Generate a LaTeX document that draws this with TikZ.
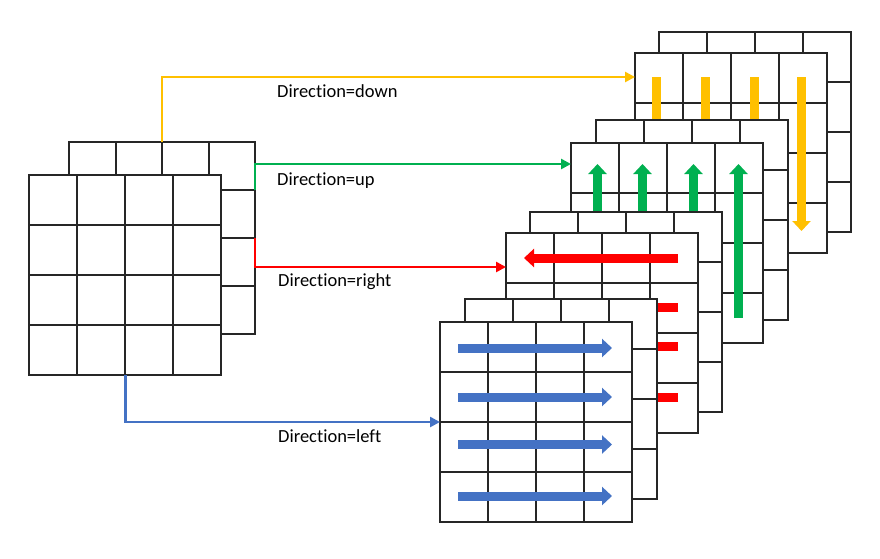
\documentclass[tikz,border=0pt]{standalone}
\usepackage{fontspec}
\setmainfont{Carlito}[Ligatures={NoCommon}]
\usetikzlibrary{arrows.meta,calc}
\definecolor{cy}{HTML}{FFC000}
\definecolor{cg}{HTML}{00B050}
\definecolor{cr}{HTML}{FF0000}
\definecolor{cb}{HTML}{4472C4}
\definecolor{gl}{HTML}{262626}
\tikzset{
  gridbox/.style={draw=gl, line width=2pt, fill=white, inner sep=0pt, outer sep=0pt, rectangle},
  gridline/.style={draw=gl, line width=2pt},
  conn/.style={line width=2.6pt, -{Triangle[length=10pt,width=10pt]}},
  blk/.style={line width=9pt, -{Triangle[length=10pt,width=18pt]}},
  lbl/.style={anchor=base west, inner sep=0pt, font=\fontsize{18.5}{22}\selectfont}
}
\newcommand\mygrid[5]{%
  \node[gridbox, anchor=north west, minimum width=#4pt, minimum height=#5pt] (#1) at (#2,#3) {};
  \foreach \i in {1,2,3} {
    \draw[gridline] ($(#1.north west)+({#4/4*\i},0)$) -- ($(#1.south west)+({#4/4*\i},0)$);
    \draw[gridline] ($(#1.north west)+(0,{#5/4*\i})$) -- ($(#1.north east)+(0,{#5/4*\i})$);
  }%
}
\begin{document}
\begin{tikzpicture}[x=1pt,y=-1pt]
\useasboundingbox (0,0) rectangle (880,558);
% left source grids
\mygrid{LB}{69}{142}{186}{192}
\mygrid{LF}{29}{175}{192}{200}
% down stack
\mygrid{YB}{659}{32}{192}{200}
\mygrid{YF}{635}{53}{192}{200}
\foreach \x in {656.5,705.5,754.5,801.5} \draw[blk, cy] (\x,77) -- (\x,231);
% up stack
\mygrid{GB}{596}{120}{192}{200}
\mygrid{GF}{571}{143}{192}{200}
\foreach \x in {597.5,642.5,693.5,738.5} \draw[blk, cg] (\x,318) -- (\x,164);
% right stack
\mygrid{RB}{530}{212}{192}{200}
\mygrid{RF}{506}{233}{192}{200}
\foreach \y in {258,307.5,346.5,397.5} \draw[blk, cr] (678,\y) -- (524,\y);
% left stack
\mygrid{BB}{465}{299}{192}{200}
\mygrid{BF}{440}{322}{192}{200}
\foreach \y in {348,397,444.5,496} \draw[blk, cb] (458,\y) -- (612,\y);
% connectors
\coordinate (ys) at (162,142);
\coordinate (ye) at (635,77);
\coordinate (gs) at (255,190);
\coordinate (ge) at (571,164);
\coordinate (rs) at (255,238);
\coordinate (re) at (506,267);
\coordinate (bs) at (125.5,375);
\coordinate (be) at (440,422);
\draw[conn, cy] (ys) |- (ye);
\draw[conn, cg] (gs) |- (ge);
\draw[conn, cr] (rs) |- (re);
\draw[conn, cb] (bs) |- (be);
% labels
\node[lbl] (ld) at (277,97.5) {Direction=down};
\node[lbl] (lu) at (277,185) {Direction=up};
\node[lbl] (lr) at (278,286) {Direction=right};
\node[lbl] (ll) at (278,442.5) {Direction=left};
\end{tikzpicture}
\end{document}
